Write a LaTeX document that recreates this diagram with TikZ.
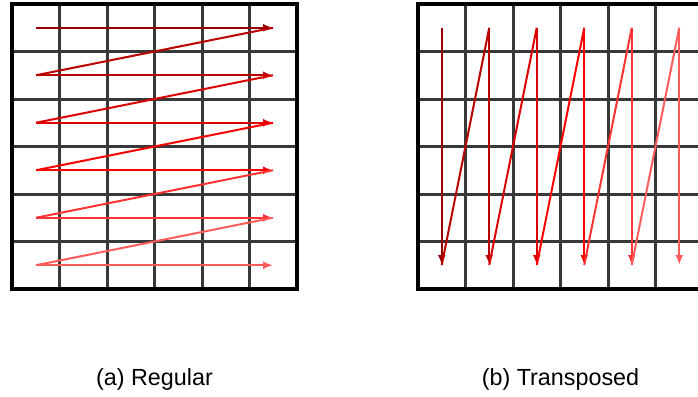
\documentclass[tikz,border=0pt]{standalone}
\usepackage{fontspec}
\setmainfont{Liberation Sans}
\usetikzlibrary{arrows.meta}
\definecolor{c1}{HTML}{990000}
\definecolor{c2}{HTML}{BB0000}
\definecolor{c3}{HTML}{DD0000}
\definecolor{c4}{HTML}{FF0000}
\definecolor{c5}{HTML}{FF3333}
\definecolor{c6}{HTML}{FF5C5C}
\tikzset{
  gridline/.style={draw=black!78, line width=2.25pt},
  border/.style={draw=black, line width=3.6pt},
  flow/.style={line width=1.5pt, -{Latex[length=7.5pt,width=6pt]}},
  diag/.style={line width=1.5pt},
  caption/.style={font=\fontsize{17.5pt}{20pt}\selectfont, inner sep=0pt}
}
\begin{document}
\begin{tikzpicture}[x=0.75pt,y=-0.75pt]
\useasboundingbox (0,0) rectangle (698,396);
\clip (0,0) rectangle (698,396);
% ---------- left grid ----------
\foreach \k in {1,...,5} {
  \draw[gridline] ({12+47.5*\k},4) -- ({12+47.5*\k},289);
  \draw[gridline] (12,{4+47.5*\k}) -- (297,{4+47.5*\k});
}
\draw[border] (12,4) rectangle (297,289);
% ---------- right grid ----------
\foreach \k in {1,...,5} {
  \draw[gridline] ({418+47.5*\k},4) -- ({418+47.5*\k},289);
  \draw[gridline] (418,{4+47.5*\k}) -- (703,{4+47.5*\k});
}
\draw[border] (418,4) rectangle (703,289);
% ---------- left arrows (row-major) ----------
\foreach \i in {1,...,6} {
  \coordinate (ls\i) at (36,{4+47.5*(\i-0.5)});
  \coordinate (le\i) at (273,{4+47.5*(\i-0.5)});
}
\draw[flow, c1] (ls1) -- (le1);
\draw[diag, c2] (le1) -- (ls2); \draw[flow, c2] (ls2) -- (le2);
\draw[diag, c3] (le2) -- (ls3); \draw[flow, c3] (ls3) -- (le3);
\draw[diag, c4] (le3) -- (ls4); \draw[flow, c4] (ls4) -- (le4);
\draw[diag, c5] (le4) -- (ls5); \draw[flow, c5] (ls5) -- (le5);
\draw[diag, c6] (le5) -- (ls6); \draw[flow, c6] (ls6) -- (le6);
% ---------- right arrows (column-major) ----------
\foreach \j in {1,...,6} {
  \coordinate (rs\j) at ({418+47.5*(\j-0.5)},27.75);
  \coordinate (re\j) at ({418+47.5*(\j-0.5)},265);
}
\draw[flow, c1] (rs1) -- (re1);
\draw[diag, c2] (re1) -- (rs2); \draw[flow, c2] (rs2) -- (re2);
\draw[diag, c3] (re2) -- (rs3); \draw[flow, c3] (rs3) -- (re3);
\draw[diag, c4] (re3) -- (rs4); \draw[flow, c4] (rs4) -- (re4);
\draw[diag, c5] (re4) -- (rs5); \draw[flow, c5] (rs5) -- (re5);
\draw[diag, c6] (re5) -- (rs6); \draw[flow, c6] (rs6) -- (re6);
% ---------- captions ----------
\node[caption, anchor=base] (capa) at (154.5,385) {(a) Regular};
\node[caption, anchor=base] (capb) at (560.5,385) {(b) Transposed};
\end{tikzpicture}
\end{document}
